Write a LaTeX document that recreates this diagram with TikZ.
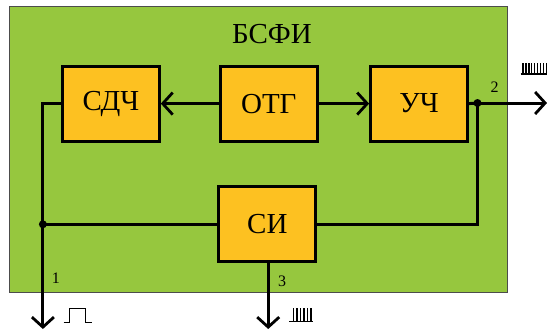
\documentclass[tikz,border=0pt]{standalone}
\usepackage{fontspec}
\setmainfont{Liberation Serif}
\usetikzlibrary{arrows.meta}
\definecolor{bgreen}{RGB}{150,199,62}
\definecolor{borange}{RGB}{253,193,33}
\tikzset{
  blk/.style={draw=black, line width=2.8pt, fill=borange, minimum width=97pt, minimum height=75pt, inner sep=0pt, font=\fontsize{29}{30}\selectfont},
  wire/.style={line width=3pt},
  arr/.style={wire, -{Straight Barb[length=10pt,width=22pt,line width=2.8pt]}},
  num/.style={font=\fontsize{16}{17}\selectfont, inner sep=0pt},
  sig/.style={line width=1.4pt},
  jdot/.style={circle, fill=black, minimum size=8pt, inner sep=0pt}
}
\begin{document}
\begin{tikzpicture}[x=1pt,y=-1pt]
\useasboundingbox (0,0) rectangle (547,332);
\node[draw=black!70, line width=0.8pt, fill=bgreen, minimum width=497.5pt, minimum height=286.5pt, inner sep=0pt] (frame) at (258.6,149.6) {};
\node[font=\fontsize{29}{30}\selectfont] (title) at (272,34) {БСФИ};
\node[blk] (sdch) at (110.9,103.6) {СДЧ};
\node[blk] (otg) at (268.8,103.6) {ОТГ};
\node[blk] (uch) at (419,103.6) {УЧ};
\node[blk] (si) at (267.3,224.3) {СИ};
\coordinate (jr) at (477.5,103);
\coordinate (jl) at (42.9,224.3);
\coordinate (out2) at (547,103);
\coordinate (out1) at (42.9,329);
\coordinate (out3) at (268.2,329);
\draw[arr] (otg.west) -- (sdch.east);
\draw[arr] (otg.east) -- (uch.west);
\draw[wire] (uch.east) -- (jr);
\draw[arr] (jr) -- (out2);
\draw[wire] (si.east) -| (jr);
\draw[wire] (si.west) -- (jl);
\draw[wire] (sdch.west) -| (jl);
\draw[arr] (jl) -- (out1);
\draw[arr] (si.south -| out3) -- (out3);
\node[jdot] (d1) at (jr) {};
\node[jdot] (d2) at (jl) {};
\node[num] (n1) at (56,278) {1};
\node[num] (n2) at (494.6,87) {2};
\node[num] (n3) at (282,281) {3};
% single pulse
\draw[sig] (63.5,322.5) -- (69.5,322.5) -- (69.5,308.5) -- (85.5,308.5) -- (85.5,322.5) -- (91.5,322.5);
% pulse train bottom
\draw[sig] (289,321.7) -- (313.3,321.7);
\foreach \i in {0,...,5} \draw[sig] ({293.5+\i*3.5},321.7) -- ({293.5+\i*3.5},308.3);
% pulse train top right
\draw[sig] (520.7,74) -- (547,74);
\foreach \i in {0,...,8} \draw[sig] ({523+\i*2.9},74) -- ({523+\i*2.9},62.7);
\end{tikzpicture}
\end{document}
